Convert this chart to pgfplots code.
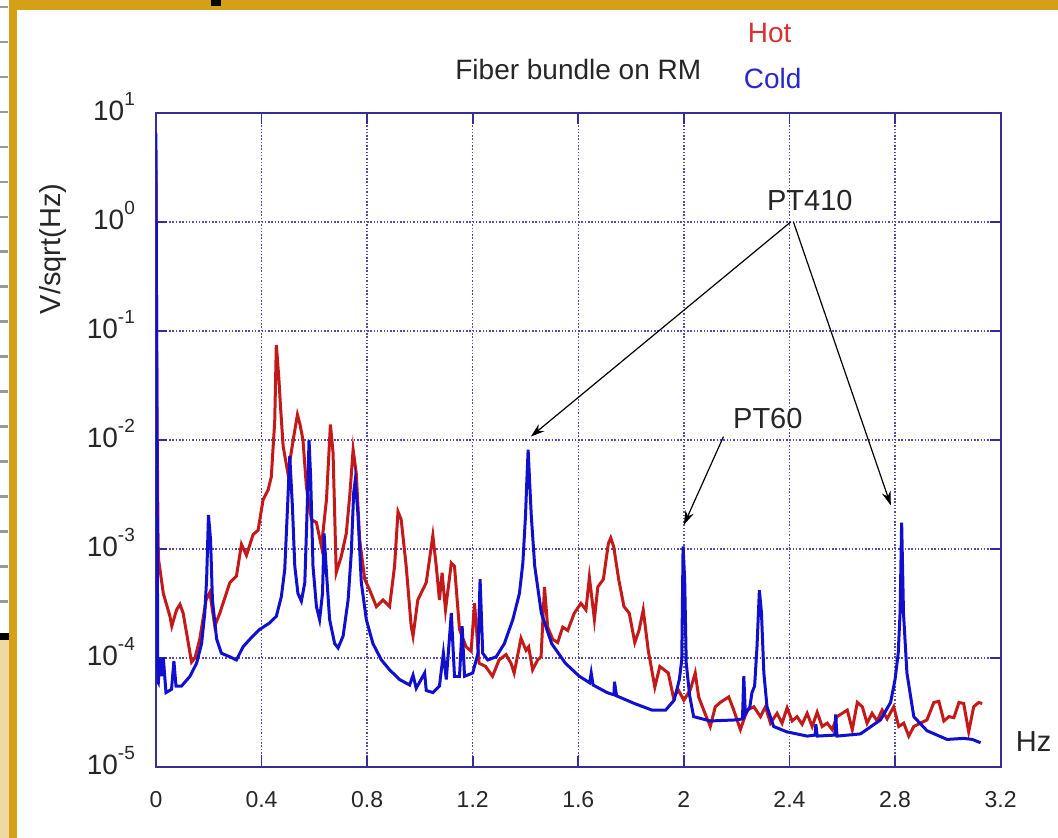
\documentclass[border=0pt]{standalone}
\usepackage{pgfplots}
\pgfplotsset{compat=1.18}
\usepackage{fontspec}
\setmainfont{Liberation Sans}
\usetikzlibrary{arrows.meta}
\definecolor{gold}{RGB}{212,160,23}
\definecolor{beige}{RGB}{238,218,160}
\definecolor{axc}{RGB}{55,45,150}
\definecolor{gridc}{RGB}{85,75,170}
\definecolor{hotc}{RGB}{195,25,25}
\definecolor{coldc}{RGB}{15,15,205}
\definecolor{hottext}{RGB}{215,50,50}
\definecolor{coldtext}{RGB}{40,40,200}
\definecolor{txt}{RGB}{38,38,38}
\newcommand{\ep}[1]{10\raisebox{7.5pt}{\fontsize{9.5}{10}\selectfont #1}}

\pgfplotstableread{
x y
0.000 3.0
0.004 2.0e-2
0.008 1.2e-3
0.010 7.94e-4
0.028 3.89e-4
0.053 2.40e-4
0.060 1.95e-4
0.078 2.75e-4
0.091 3.09e-4
0.103 2.57e-4
0.135 9.12e-5
0.148 1.0e-4
0.166 1.48e-4
0.190 3.39e-4
0.204 3.98e-4
0.223 1.95e-4
0.242 2.57e-4
0.280 4.90e-4
0.305 5.62e-4
0.324 1.10e-3
0.343 8.71e-4
0.368 1.35e-3
0.387 1.48e-3
0.406 2.82e-3
0.425 3.47e-3
0.437 4.57e-3
0.450 1.48e-2
0.456 7.41e-2
0.460 5.62e-2
0.466 3.55e-2
0.472 2.0e-2
0.482 8.71e-3
0.500 4.90e-3
0.520 1.0e-2
0.536 1.70e-2
0.545 1.41e-2
0.557 1.0e-2
0.570 3.72e-3
0.589 1.86e-3
0.608 1.74e-3
0.627 1.05e-3
0.646 2.82e-3
0.661 1.38e-2
0.671 7.59e-3
0.683 6.03e-4
0.702 8.51e-4
0.721 1.38e-3
0.734 3.02e-3
0.747 8.13e-3
0.759 4.90e-3
0.772 1.20e-3
0.791 5.25e-4
0.810 4.17e-4
0.835 2.95e-4
0.860 3.39e-4
0.885 2.95e-4
0.904 6.92e-4
0.917 2.19e-3
0.929 1.86e-3
0.948 6.92e-4
0.967 1.95e-4
0.974 1.58e-4
0.992 3.39e-4
1.024 4.90e-4
1.049 1.32e-3
1.062 6.92e-4
1.074 3.39e-4
1.084 6.03e-4
1.097 2.75e-4
1.119 7.41e-4
1.131 6.92e-4
1.150 1.82e-4
1.175 1.26e-4
1.194 1.15e-4
1.207 3.16e-4
1.224 8.91e-5
1.249 8.32e-5
1.275 6.76e-5
1.300 9.55e-5
1.326 1.07e-4
1.345 8.91e-5
1.357 7.24e-5
1.383 1.51e-4
1.402 1.17e-4
1.412 1.26e-4
1.427 7.76e-5
1.446 9.55e-5
1.459 1.02e-4
1.472 4.47e-4
1.484 1.91e-4
1.503 1.48e-4
1.522 1.38e-4
1.541 1.91e-4
1.560 1.78e-4
1.585 2.57e-4
1.610 3.16e-4
1.629 2.75e-4
1.642 5.50e-4
1.661 2.24e-4
1.674 4.47e-4
1.695 5.25e-4
1.714 1.12e-3
1.723 1.26e-3
1.734 1.05e-3
1.753 5.25e-4
1.773 2.95e-4
1.793 2.57e-4
1.814 1.38e-4
1.830 1.78e-4
1.846 2.75e-4
1.865 1.17e-4
1.890 5.37e-5
1.909 8.32e-5
1.941 7.24e-5
1.960 4.37e-5
1.980 5.01e-5
2.000 4.07e-5
2.025 5.13e-5
2.043 7.24e-5
2.056 4.37e-5
2.075 3.31e-5
2.100 2.34e-5
2.119 3.55e-5
2.138 3.89e-5
2.170 4.37e-5
2.189 3.31e-5
2.214 2.19e-5
2.240 3.31e-5
2.265 3.55e-5
2.290 2.88e-5
2.309 3.55e-5
2.328 2.51e-5
2.353 3.09e-5
2.372 2.51e-5
2.391 3.47e-5
2.410 2.63e-5
2.429 2.88e-5
2.448 2.45e-5
2.467 3.09e-5
2.486 2.34e-5
2.505 3.16e-5
2.524 2.34e-5
2.543 2.51e-5
2.562 2.19e-5
2.580 2.88e-5
2.600 3.09e-5
2.619 3.31e-5
2.638 2.19e-5
2.657 3.89e-5
2.676 3.55e-5
2.694 2.51e-5
2.713 3.09e-5
2.732 2.63e-5
2.751 3.31e-5
2.770 2.75e-5
2.795 3.55e-5
2.814 2.34e-5
2.833 2.51e-5
2.852 1.91e-5
2.871 2.34e-5
2.896 2.51e-5
2.921 2.69e-5
2.947 3.89e-5
2.966 3.98e-5
2.985 2.63e-5
3.004 2.88e-5
3.023 2.82e-5
3.042 3.89e-5
3.060 3.80e-5
3.079 2.09e-5
3.098 3.55e-5
3.117 3.89e-5
3.130 3.80e-5
}\hot

\pgfplotstableread{
x y
0.000 6.5
0.004 1.0e-2
0.007 6.0e-5
0.009 5.89e-5
0.015 1.0e-4
0.021 6.76e-5
0.028 1.0e-4
0.038 4.79e-5
0.059 5.13e-5
0.068 9.33e-5
0.076 5.50e-5
0.097 5.50e-5
0.129 6.76e-5
0.154 8.91e-5
0.173 1.35e-4
0.185 2.57e-4
0.192 5.25e-4
0.199 2.04e-3
0.207 1.20e-3
0.214 3.39e-4
0.230 1.48e-4
0.248 1.10e-4
0.280 1.02e-4
0.305 9.55e-5
0.330 1.26e-4
0.356 1.48e-4
0.393 1.82e-4
0.431 2.09e-4
0.456 2.40e-4
0.475 3.63e-4
0.488 6.46e-4
0.497 2.0e-3
0.507 7.08e-3
0.517 2.45e-3
0.526 6.92e-4
0.538 3.89e-4
0.551 3.31e-4
0.564 4.90e-4
0.574 2.82e-3
0.580 1.0e-2
0.586 4.57e-3
0.595 6.92e-4
0.608 2.95e-4
0.620 2.24e-4
0.631 3.89e-4
0.637 1.38e-3
0.646 6.03e-4
0.658 2.24e-4
0.677 1.35e-4
0.690 1.23e-4
0.709 1.58e-4
0.728 3.39e-4
0.740 9.12e-4
0.749 3.24e-3
0.755 4.27e-3
0.765 2.14e-3
0.778 4.90e-4
0.797 2.24e-4
0.822 1.35e-4
0.854 9.55e-5
0.885 7.76e-5
0.923 6.31e-5
0.961 5.62e-5
0.974 6.92e-5
0.986 5.25e-5
1.018 7.24e-5
1.024 5.01e-5
1.049 4.79e-5
1.074 5.50e-5
1.089 1.10e-4
1.100 6.31e-5
1.119 2.57e-4
1.131 6.76e-5
1.150 6.76e-5
1.160 1.95e-4
1.169 6.76e-5
1.200 7.24e-5
1.220 1.10e-4
1.228 5.25e-4
1.238 1.10e-4
1.257 9.55e-5
1.289 1.02e-4
1.320 1.35e-4
1.352 2.24e-4
1.377 3.89e-4
1.390 7.41e-4
1.400 2.0e-3
1.405 4.17e-3
1.410 8.13e-3
1.416 3.98e-3
1.422 2.0e-3
1.435 6.92e-4
1.460 2.57e-4
1.499 1.35e-4
1.551 8.91e-5
1.604 6.76e-5
1.643 5.89e-5
1.649 7.24e-5
1.656 5.62e-5
1.709 4.79e-5
1.735 4.57e-5
1.737 6.03e-5
1.745 4.47e-5
1.813 3.80e-5
1.879 3.31e-5
1.931 3.31e-5
1.963 4.07e-5
1.983 6.31e-5
1.992 9.55e-5
1.997 1.05e-3
2.003 5.25e-4
2.009 8.91e-5
2.022 4.47e-5
2.037 2.88e-5
2.100 2.63e-5
2.200 2.69e-5
2.222 2.75e-5
2.227 6.76e-5
2.233 3.02e-5
2.250 3.55e-5
2.258 4.79e-5
2.268 5.50e-5
2.277 1.26e-4
2.286 4.17e-4
2.294 2.57e-4
2.303 7.24e-5
2.315 3.55e-5
2.340 2.34e-5
2.390 2.09e-5
2.467 1.91e-5
2.497 1.95e-5
2.500 2.45e-5
2.505 1.91e-5
2.572 1.95e-5
2.575 3.02e-5
2.580 1.91e-5
2.669 2.0e-5
2.745 2.69e-5
2.783 3.89e-5
2.800 6.31e-5
2.812 1.10e-4
2.819 2.57e-4
2.825 1.74e-3
2.832 2.57e-4
2.845 7.24e-5
2.871 2.88e-5
2.921 2.14e-5
2.997 1.78e-5
3.060 1.82e-5
3.093 1.78e-5
3.124 1.66e-5
}\cold

\begin{document}
\begin{tikzpicture}
% canvas 1058x838 px at 0.5pt per px
\path (0,0) rectangle (529pt,419pt);
% slide frame
\fill[gold] (4.5pt,419pt) rectangle (529pt,414pt);
\fill[gold] (4.5pt,0pt) rectangle (8.5pt,419pt);
\fill[black] (105.5pt,419pt) rectangle (110.5pt,416pt);
\foreach \k in {0,...,17}{
  \fill[black!40] (0pt,{(838-7-35*\k)*0.5pt+0.7pt}) rectangle (4pt,{(838-7-35*\k)*0.5pt-0.7pt});
}
\fill[black] (0pt,102.5pt) rectangle (4.5pt,99pt);
\fill[beige] (0pt,0pt) rectangle (4.5pt,99pt);

\begin{axis}[
  at={(78pt,35.5pt)}, anchor=south west,
  scale only axis, width=422.5pt, height=327pt,
  xmin=0, xmax=3.2, ymode=log, ymin=1e-5, ymax=10,
  xtick={0,0.4,0.8,1.2,1.6,2,2.4,2.8,3.2},
  xticklabels={0,0.4,0.8,1.2,1.6,2,2.4,2.8,3.2},
  ytick={1e-5,1e-4,1e-3,1e-2,1e-1,1,10},
  yticklabels={\ep{-5},\ep{-4},\ep{-3},\ep{-2},\ep{-1},\ep{0},\ep{1}},
  yminorticks=false,
  grid=major,
  major grid style={line width=0.75pt, dash pattern=on 0.75pt off 0.9pt, color=gridc},
  axis line style={axc, line width=0.9pt},
  tick style={axc, line width=0.9pt},
  major tick length=5.5pt,
  tick align=inside,
  /pgf/number format/assume math mode=true,
  xticklabel style={font=\fontsize{11.5}{14}\selectfont, text=txt, yshift=-9pt},
  yticklabel style={font=\fontsize{14}{15}\selectfont, text=txt, xshift=-7pt, yshift=3pt},
  clip=true,
]
\addplot[hotc, line width=1.5pt] table[x=x,y=y]{\hot};
\addplot[coldc, line width=1.5pt] table[x=x,y=y]{\cold};

% annotations
\draw[black, line width=0.6pt, -{Stealth[length=7pt,width=4.5pt]}] (axis cs:2.405,1.0) -- (axis cs:1.42,0.0107);
\draw[black, line width=0.6pt, -{Stealth[length=7pt,width=4.5pt]}] (axis cs:2.415,1.0) -- (axis cs:2.784,0.0025);
\draw[black, line width=0.6pt, -{Stealth[length=7pt,width=4.5pt]}] (axis cs:2.15,0.0107) -- (axis cs:2.0,0.00166);
\node[text=txt, font=\fontsize{14.5}{16}\selectfont] at (axis cs:2.477,1.56) {PT410};
\node[text=txt, font=\fontsize{14.5}{16}\selectfont] at (axis cs:2.318,0.0156) {PT60};
\end{axis}

% texts around
\node[text=txt, font=\fontsize{14}{16}\selectfont] at (289.25pt,384pt) {Fiber bundle on RM};
\node[text=hottext, font=\fontsize{14}{16}\selectfont] at (385pt,402.5pt) {Hot};
\node[text=coldtext, font=\fontsize{14}{16}\selectfont] at (386.5pt,379.5pt) {Cold};
\node[text=txt, font=\fontsize{14.5}{16}\selectfont] at (517pt,48pt) {Hz};
\node[text=txt, font=\fontsize{14.5}{15}\selectfont, rotate=90] at (26.5pt,294.5pt) {V/sqrt(Hz)};
\end{tikzpicture}
\end{document}
